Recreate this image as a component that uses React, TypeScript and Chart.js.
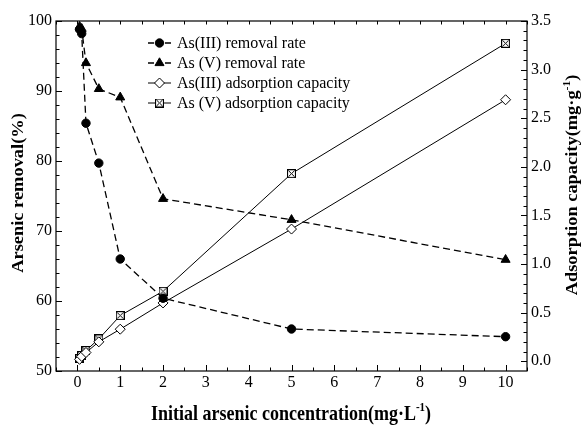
import { useEffect, useRef } from "react";
import { Chart, registerables } from "chart.js";
import { drawPoint } from "chart.js/helpers";

Chart.register(...registerables);

// Initial arsenic concentration (mg/L)
const concentration = [0.05, 0.1, 0.2, 0.5, 1, 2, 5, 10];
// Removal rate (%)
const as3Removal = [98.8, 98.2, 85.4, 79.7, 66.0, 60.4, 56.0, 54.9];
const as5Removal = [99.2, 98.9, 94.0, 90.3, 89.1, 74.6, 71.6, 65.9];
// Adsorption capacity (mg/g)
const as3Capacity = [0.02, 0.05, 0.09, 0.2, 0.33, 0.6, 1.36, 2.69];
const as5Capacity = [0.03, 0.06, 0.11, 0.23, 0.47, 0.72, 1.93, 3.27];

const seriesLabels = [
  "As(III) removal rate",
  "As (V) removal rate",
  "As(III) adsorption capacity",
  "As (V) adsorption capacity",
];

const xTickValues = [0, 1, 2, 3, 4, 5, 6, 7, 8, 9, 10];
const leftTickValues = [50, 60, 70, 80, 90, 100];
const rightTickValues = [0, 0.5, 1, 1.5, 2, 2.5, 3, 3.5];

const SERIF = "'Liberation Serif', 'Times New Roman', serif";

function makeCrossBox(): HTMLCanvasElement {
  const c = document.createElement("canvas");
  c.width = 9;
  c.height = 9;
  const g = c.getContext("2d")!;
  g.fillStyle = "#fff";
  g.fillRect(0, 0, 9, 9);
  g.strokeStyle = "#000";
  g.lineWidth = 1.2;
  g.strokeRect(0.5, 0.5, 8, 8);
  g.lineWidth = 1;
  g.beginPath();
  g.moveTo(1.5, 1.5);
  g.lineTo(7.5, 7.5);
  g.moveTo(7.5, 1.5);
  g.lineTo(1.5, 7.5);
  g.stroke();
  return c;
}

type Part = { text: string; sup?: boolean };

function drawParts(ctx: CanvasRenderingContext2D, parts: Part[], size: number) {
  const main = `bold ${size}px ${SERIF}`;
  const small = `bold ${Math.round(size * 0.62)}px ${SERIF}`;
  let total = 0;
  const widths = parts.map((p) => {
    ctx.font = p.sup ? small : main;
    const w = ctx.measureText(p.text).width;
    total += w;
    return w;
  });
  let x = -total / 2;
  ctx.textAlign = "left";
  ctx.textBaseline = "alphabetic";
  parts.forEach((p, i) => {
    ctx.font = p.sup ? small : main;
    ctx.fillText(p.text, x, p.sup ? -size * 0.42 : 0);
    x += widths[i];
  });
}

const framePlugin = {
  id: "frameTicks",
  afterDraw(chart: any) {
    const ctx: CanvasRenderingContext2D = chart.ctx;
    const { left, right, top, bottom } = chart.chartArea;
    const xs = chart.scales.x;
    const yl = chart.scales.y;
    const yr = chart.scales.y1;
    ctx.save();
    ctx.strokeStyle = "#000";
    ctx.lineWidth = 1.2;
    ctx.setLineDash([]);
    ctx.strokeRect(left, top, right - left, bottom - top);
    ctx.lineWidth = 1;
    ctx.beginPath();
    // bottom and top ticks every 0.5
    for (let i = -1; i <= 21; i++) {
      const v = i / 2;
      const px = Math.round(xs.getPixelForValue(v)) + 0.5;
      const len = i % 2 === 0 ? 6 : 3.5;
      ctx.moveTo(px, bottom);
      ctx.lineTo(px, bottom - len);
      ctx.moveTo(px, top);
      ctx.lineTo(px, top + 3.5);
    }
    // left ticks every 2%
    for (let v = 50; v <= 100; v += 2) {
      const py = Math.round(yl.getPixelForValue(v)) + 0.5;
      const len = v % 10 === 0 ? 6 : 3.5;
      ctx.moveTo(left, py);
      ctx.lineTo(left + len, py);
    }
    // right ticks every 0.1
    for (let i = 0; i <= 35; i++) {
      const v = i / 10;
      const py = Math.round(yr.getPixelForValue(v)) + 0.5;
      const len = i % 5 === 0 ? 6 : 3.5;
      ctx.moveTo(right, py);
      ctx.lineTo(right - len, py);
    }
    ctx.stroke();

    // legend: short line sample with the series marker, then its name
    const ds = chart.data.datasets;
    ds.forEach((d: any, i: number) => {
      const y = 43 + i * 20;
      ctx.strokeStyle = "#000";
      ctx.lineWidth = d.borderWidth;
      ctx.setLineDash([]);
      ctx.beginPath();
      if (d.borderDash && d.borderDash.length) {
        ctx.moveTo(148, y);
        ctx.lineTo(154, y);
        ctx.moveTo(165, y);
        ctx.lineTo(171, y);
      } else {
        ctx.moveTo(148, y);
        ctx.lineTo(171, y);
      }
      ctx.stroke();
      ctx.fillStyle = d.pointBackgroundColor;
      ctx.strokeStyle = d.pointBorderColor;
      ctx.lineWidth = d.pointBorderWidth;
      drawPoint(
        ctx,
        { pointStyle: d.pointStyle, radius: d.pointRadius, rotation: 0, borderWidth: d.pointBorderWidth } as any,
        159.5,
        y
      );
      ctx.fillStyle = "#000";
      ctx.font = `16px ${SERIF}`;
      ctx.textAlign = "left";
      ctx.textBaseline = "middle";
      ctx.fillText(d.label, 177, y + 1);
    });

    // axis titles
    ctx.fillStyle = "#000";
    ctx.save();
    ctx.translate(291, 420);
    ctx.scale(1, 1.15);
    drawParts(ctx, [{ text: "Initial arsenic concentration(mg·L" }, { text: "-1", sup: true }, { text: ")" }], 18);
    ctx.restore();

    ctx.save();
    ctx.translate(23, 193);
    ctx.rotate(-Math.PI / 2);
    ctx.scale(1.15, 1);
    drawParts(ctx, [{ text: "Arsenic removal(%)" }], 16);
    ctx.restore();

    ctx.save();
    ctx.translate(577, 185);
    ctx.rotate(-Math.PI / 2);
    ctx.scale(1.15, 1);
    drawParts(ctx, [{ text: "Adsorption capacity(mg·g" }, { text: "-1", sup: true }, { text: ")" }], 16);
    ctx.restore();

    ctx.restore();
  },
};

export default function App() {
  const ref = useRef<HTMLCanvasElement | null>(null);

  useEffect(() => {
    if (!ref.current) return;
    const pts = (ys: number[]) => concentration.map((x, i) => ({ x, y: ys[i] }));
    const crossBox = makeCrossBox();
    const tickFont = { family: SERIF, size: 16 };

    const chart = new Chart(ref.current, {
      type: "line",
      data: {
        datasets: [
          {
            label: seriesLabels[0],
            data: pts(as3Removal),
            yAxisID: "y",
            borderColor: "#000",
            borderWidth: 1.3,
            borderDash: [7, 4],
            pointStyle: "circle",
            pointRadius: 4.2,
            pointBackgroundColor: "#000",
            pointBorderColor: "#000",
            pointBorderWidth: 1,
            tension: 0,
          },
          {
            label: seriesLabels[1],
            data: pts(as5Removal),
            yAxisID: "y",
            borderColor: "#000",
            borderWidth: 1.3,
            borderDash: [7, 4],
            pointStyle: "triangle",
            pointRadius: 5.2,
            pointBackgroundColor: "#000",
            pointBorderColor: "#000",
            pointBorderWidth: 1,
            tension: 0,
          },
          {
            label: seriesLabels[2],
            data: pts(as3Capacity),
            yAxisID: "y1",
            borderColor: "#000",
            borderWidth: 1,
            pointStyle: "rectRot",
            pointRadius: 5,
            pointBackgroundColor: "#fff",
            pointBorderColor: "#000",
            pointBorderWidth: 1,
            tension: 0,
          },
          {
            label: seriesLabels[3],
            data: pts(as5Capacity),
            yAxisID: "y1",
            borderColor: "#000",
            borderWidth: 1,
            pointStyle: crossBox,
            pointRadius: 4.5,
            pointBackgroundColor: "#fff",
            pointBorderColor: "#000",
            pointBorderWidth: 1,
            tension: 0,
          },
        ] as any,
      },
      options: {
        animation: false,
        responsive: false,
        maintainAspectRatio: false,
        layout: { padding: { top: 21, left: 0, right: 0, bottom: 0 } },
        plugins: {
          legend: { display: false },
          tooltip: { enabled: false },
          title: { display: false },
        },
        scales: {
          x: {
            type: "linear",
            min: -0.5,
            max: 10.5,
            afterBuildTicks: (s: any) => {
              s.ticks = xTickValues.map((value) => ({ value }));
            },
            afterFit: (s: any) => {
              s.height = 54;
            },
            ticks: {
              font: tickFont,
              color: "#000",
              padding: 2,
              maxRotation: 0,
              autoSkip: false,
              callback: (v: any) => String(v),
            },
            grid: { display: false, drawTicks: false },
            border: { display: false },
          },
          y: {
            position: "left",
            min: 50,
            max: 100,
            afterBuildTicks: (s: any) => {
              s.ticks = leftTickValues.map((value) => ({ value }));
            },
            afterFit: (s: any) => {
              s.width = 56;
            },
            ticks: {
              font: tickFont,
              color: "#000",
              padding: 4,
              autoSkip: false,
              callback: (v: any) => String(v),
            },
            grid: { display: false, drawTicks: false },
            border: { display: false },
          },
          y1: {
            position: "right",
            min: -0.1,
            max: 3.5,
            afterBuildTicks: (s: any) => {
              s.ticks = rightTickValues.map((value) => ({ value }));
            },
            afterFit: (s: any) => {
              s.width = 57;
            },
            ticks: {
              font: tickFont,
              color: "#000",
              padding: 4,
              autoSkip: false,
              callback: (v: any) => Number(v).toFixed(1),
            },
            grid: { display: false, drawTicks: false },
            border: { display: false },
          },
        },
      } as any,
      plugins: [framePlugin],
    });
    return () => chart.destroy();
  }, []);

  return (
    <div style={{ position: "absolute", left: 0, top: 0, width: 584, height: 425, background: "#fff" }}>
      <canvas ref={ref} width={584} height={425} style={{ display: "block" }} />
    </div>
  );
}
